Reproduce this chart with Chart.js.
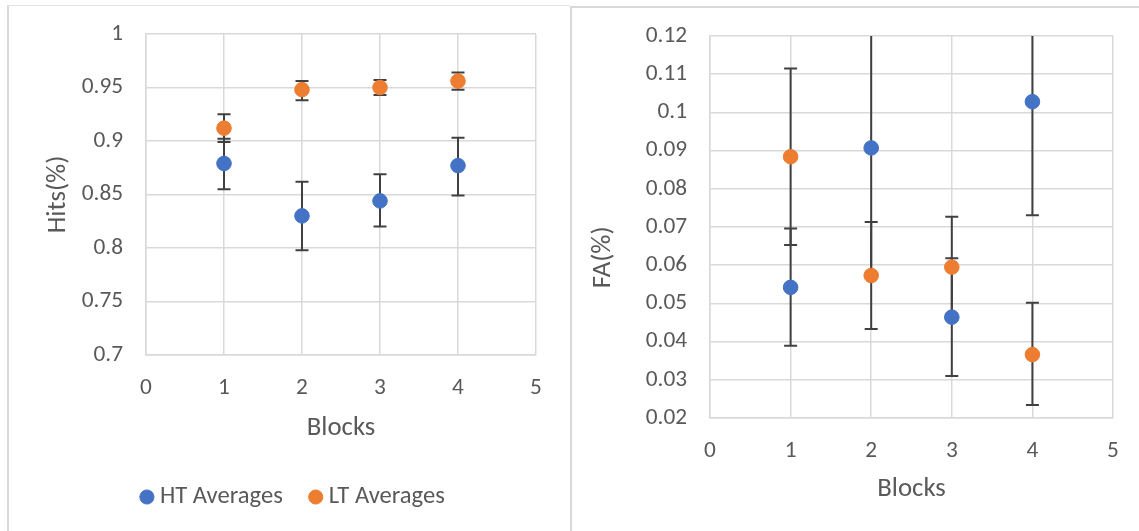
<!DOCTYPE html>
<html>
<head>
<meta charset="utf-8">
<script src="https://cdn.jsdelivr.net/npm/chart.js@4.4.1/dist/chart.umd.min.js"></script>
<style>
  html, body { margin: 0; padding: 0; background: #ffffff; }
  body { width: 1139px; height: 531px; position: relative; overflow: hidden; }
  #panelL { position: absolute; left: 7px; top: 5px; width: 563px; height: 540px;
            border-left: 2px solid #d9d9d9; border-top: 1px solid #e3e3e3; box-sizing: border-box; }
  #panelR { position: absolute; left: 570px; top: 6px; width: 580px; height: 540px;
            border-left: 2px solid #d9d9d9; border-top: 2px solid #d9d9d9; box-sizing: border-box; }
  canvas { position: absolute; }
  #cL { left: 9px; top: 6px; }
  #cR { left: 572px; top: 8px; }
</style>
</head>
<body>
<div id="panelL"></div>
<div id="panelR"></div>
<canvas id="cL" width="561" height="525"></canvas>
<canvas id="cR" width="567" height="523"></canvas>
<script>
// ---------- data ----------
const blocks = [1, 2, 3, 4];
const seriesNames = ['HT Averages', 'LT Averages'];

const hitsHT     = [0.879, 0.830, 0.844, 0.877];
const hitsHTLow  = [0.855, 0.798, 0.820, 0.849];
const hitsHTHigh = [0.902, 0.862, 0.869, 0.903];
const hitsLT     = [0.912, 0.948, 0.950, 0.956];
const hitsLTLow  = [0.899, 0.938, 0.943, 0.948];
const hitsLTHigh = [0.925, 0.956, 0.957, 0.964];

const faHT     = [0.0542, 0.0907, 0.0464, 0.1028];
const faHTLow  = [0.0389, 0.0573, 0.0310, 0.0731];
const faHTHigh = [0.0696, 0.1240, 0.0618, 0.1325];
const faLT     = [0.0884, 0.0573, 0.0595, 0.0366];
const faLTLow  = [0.0653, 0.0433, 0.0463, 0.0234];
const faLTHigh = [0.1115, 0.0713, 0.0727, 0.0502];

const xTicks     = [0, 1, 2, 3, 4, 5];
const hitsTicks  = [0.7, 0.75, 0.8, 0.85, 0.9, 0.95, 1];
const faTicks    = [0.02, 0.03, 0.04, 0.05, 0.06, 0.07, 0.08, 0.09, 0.1, 0.11, 0.12];

// ---------- styling ----------
const BLUE = '#4472C4', ORANGE = '#ED7D31';
const TEXT = '#595959', GRID = '#d9d9d9', ERR = '#404040';
const FONT = 'Carlito, Lato, "Open Sans", sans-serif';
const TICK_SIZE = 23.3, TITLE_SIZE = 26.8, LEGEND_SIZE = 24.6;

function pts(vals, lo, hi) {
  return blocks.map((b, i) => ({ x: b, y: vals[i], lo: lo[i], hi: hi[i] }));
}

const errorBars = {
  id: 'errorBars',
  beforeDatasetsDraw(chart) {
    const { ctx, chartArea, scales } = chart;
    ctx.save();
    ctx.beginPath();
    ctx.rect(chartArea.left, chartArea.top, chartArea.right - chartArea.left, chartArea.bottom - chartArea.top);
    ctx.clip();
    ctx.strokeStyle = ERR;
    ctx.lineWidth = 2;
    const cap = 6.5;
    chart.data.datasets.forEach(ds => {
      ds.data.forEach(p => {
        const x = scales.x.getPixelForValue(p.x);
        const y1 = scales.y.getPixelForValue(p.lo);
        const y2 = scales.y.getPixelForValue(p.hi);
        ctx.beginPath();
        ctx.moveTo(x, y1); ctx.lineTo(x, y2);
        ctx.moveTo(x - cap, y1); ctx.lineTo(x + cap, y1);
        ctx.moveTo(x - cap, y2); ctx.lineTo(x + cap, y2);
        ctx.stroke();
      });
    });
    ctx.restore();
  }
};

function fmt(v) { return String(parseFloat(Number(v).toFixed(4))); }

function makeChart(canvasId, cfg) {
  return new Chart(document.getElementById(canvasId), {
    type: 'scatter',
    data: {
      datasets: [
        { label: seriesNames[0], data: cfg.ht, backgroundColor: BLUE, borderColor: BLUE,
          pointRadius: 7.3, pointHoverRadius: 7.3, borderWidth: 1 },
        { label: seriesNames[1], data: cfg.lt, backgroundColor: ORANGE, borderColor: ORANGE,
          pointRadius: 7.3, pointHoverRadius: 7.3, borderWidth: 1 }
      ]
    },
    plugins: [errorBars],
    options: {
      responsive: false,
      animation: false,
      devicePixelRatio: 1,
      layout: { padding: { left: cfg.padLeft, right: cfg.padRight, top: 28, bottom: cfg.padBottom } },
      plugins: {
        tooltip: { enabled: false },
        legend: {
          display: cfg.legend,
          position: 'bottom',
          labels: {
            usePointStyle: true, pointStyle: 'circle', boxWidth: 1.5, boxHeight: 10,
            padding: 32.2, color: TEXT, font: { family: FONT, size: LEGEND_SIZE }
          }
        }
      },
      scales: {
        x: {
          type: 'linear', min: 0, max: 5,
          afterBuildTicks: s => { s.ticks = xTicks.map(v => ({ value: v })); },
          afterFit: s => { s.height = cfg.xHeight; s.paddingLeft = 0; s.paddingRight = 0; },
          grid: { color: GRID, lineWidth: 1.5, drawTicks: false },
          border: { color: GRID, width: 1.5 },
          ticks: { color: TEXT, font: { family: FONT, size: TICK_SIZE }, padding: 19, callback: v => fmt(v) },
          title: { display: true, text: 'Blocks', color: TEXT, font: { family: FONT, size: TITLE_SIZE },
                   padding: { top: 0, bottom: cfg.xTitlePad } }
        },
        y: {
          type: 'linear', min: cfg.yTicks[0], max: cfg.yTicks[cfg.yTicks.length - 1],
          afterBuildTicks: s => { s.ticks = cfg.yTicks.map(v => ({ value: v })); },
          afterFit: s => { s.width = cfg.yWidth; s.paddingTop = 0; s.paddingBottom = 0; },
          grid: { color: GRID, lineWidth: 1.5, drawTicks: false },
          border: { color: GRID, width: 1.5 },
          ticks: { color: TEXT, font: { family: FONT, size: TICK_SIZE }, padding: 23, callback: v => fmt(v) },
          title: { display: true, text: cfg.yTitle, color: TEXT, font: { family: FONT, size: TITLE_SIZE },
                   padding: { top: cfg.yTitlePad, bottom: 0 } }
        }
      }
    }
  });
}

makeChart('cL', {
  ht: pts(hitsHT, hitsHTLow, hitsHTHigh),
  lt: pts(hitsLT, hitsLTLow, hitsLTHigh),
  yTicks: hitsTicks, yTitle: 'Hits(%)',
  legend: true, padLeft: 46, padRight: 34, padBottom: 11.7,
  xHeight: 97.5, xTitlePad: 8.5, yWidth: 91, yTitlePad: -13
});

makeChart('cR', {
  ht: pts(faHT, faHTLow, faHTHigh),
  lt: pts(faLT, faLTLow, faLTHigh),
  yTicks: faTicks, yTitle: 'FA(%)          ',
  legend: false, padLeft: 0, padRight: 26, padBottom: 26,
  xHeight: 87, xTitlePad: 0, yWidth: 138, yTitlePad: 15
});
</script>
</body>
</html>
